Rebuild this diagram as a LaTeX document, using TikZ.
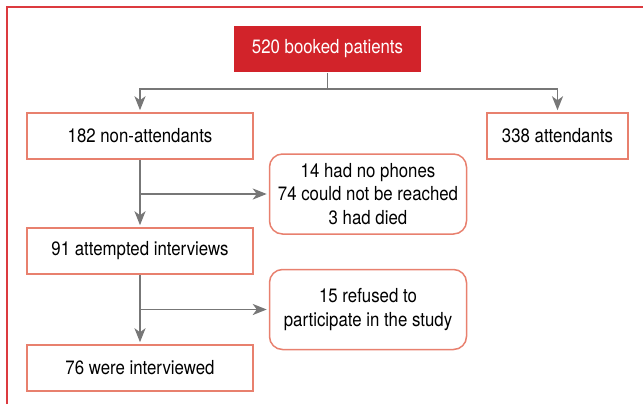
\documentclass[tikz,border=0pt]{standalone}
\usepackage{fontspec}
\setmainfont{TeX Gyre Heros}[FakeStretch=0.87]
\usetikzlibrary{arrows.meta}

\definecolor{flowred}{HTML}{D2232A}
\definecolor{flowedge}{HTML}{E8806E}
\definecolor{flowgray}{HTML}{777777}
\definecolor{framered}{HTML}{DC3A3F}

\def\px{0.75pt}

\tikzset{
  stage/.style={draw=flowedge, line width=1.5*\px, inner sep=0pt, minimum height=46*\px,
                align=center, font=\fontsize{14.5}{17.6}\selectfont},
  title/.style={stage, draw=none, fill=flowred, text=white, minimum width=187*\px},
  loss/.style={stage, rounded corners=13*\px, minimum width=197*\px, minimum height=80*\px},
  flow/.style={draw=flowgray, line width=1.8*\px,
               -{Stealth[length=14*\px, width=11*\px, inset=4*\px]}, shorten >=2*\px},
}

\begin{document}
\begin{tikzpicture}[x=\px, y=-\px]
    \useasboundingbox (0,0) rectangle (643,404);
    %% outer frame (cut at the right and bottom)
    \draw[framered, line width=2*\px] (7,404) -- (7,7) -- (643,7);

    %%   (label)  (x, y)   {\text}
    \node[title]                      (Booked)    at (327.5, 49)  {520 booked patients};
    \node[stage, minimum width=226*\px] (NonAtt)  at (140, 136)   {182 non-attendants};
    \node[stage, minimum width=141*\px] (Att)     at (557.5, 136) {338 attendants};
    \node[loss]                       (Lost)      at (368, 194)   {14 had no phones\\74 could not be reached\\3 had died};
    \node[stage, minimum width=226*\px] (Tried)   at (140, 251)   {91 attempted interviews};
    \node[loss]                       (Refused)   at (368, 309.5) {15 refused to\\participate in the study};
    \node[stage, minimum width=226*\px] (Done)    at (140, 368)   {76 were interviewed};

    \draw[flowgray, line width=1.8*\px] (Booked.south) -- ++(0,16) coordinate (Split);
    \draw[flow] (Split) -| (NonAtt.north);
    \draw[flow] (Split) -| (Att.north);

    \draw[flow] (NonAtt.south) -- (Tried.north);
    \draw[flow] (NonAtt.south |- Lost.west) -- (Lost.west);
    %
    \draw[flow] (Tried.south) -- (Done.north);
    \draw[flow] (Tried.south |- Refused.west) -- (Refused.west);

\end{tikzpicture}
\end{document}
